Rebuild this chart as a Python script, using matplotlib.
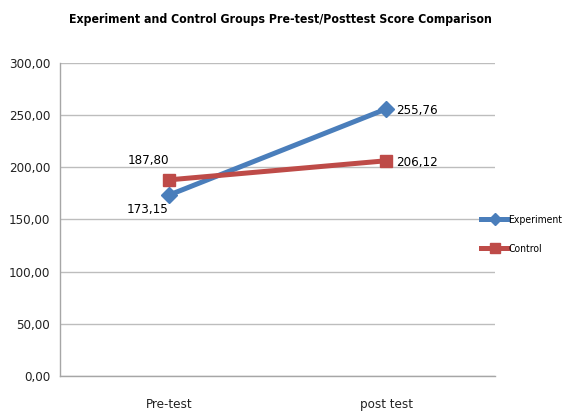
import matplotlib
matplotlib.use("Agg")
import matplotlib.pyplot as plt
from matplotlib.ticker import FuncFormatter, MultipleLocator

plt.rcParams['font.family'] = ['DejaVu Sans']
plt.rcParams['font.stretch'] = 'condensed'

categories = ["Pre-test", "post test"]
experiment = [173.15, 255.76]
control = [187.80, 206.12]

fig = plt.figure(figsize=(5.64, 4.11), dpi=100)
ax = fig.add_axes([0.1064, 0.0852, 0.7713, 0.7622])

x = [0, 1]
blue = "#4A7EBB"
red = "#BE4B48"
l1, = ax.plot(x, experiment, color=blue, lw=3.6, marker="D", ms=8,
              markeredgecolor=blue, label="Experiment", zorder=3)
l2, = ax.plot(x, control, color=red, lw=3.6, marker="s", ms=9,
              markeredgecolor=red, label="Control", zorder=4)

fmt = lambda v: f"{v:.2f}".replace(".", ",")
lab_size = 9.5

# value labels
ax.annotate(fmt(experiment[0]), (x[0], experiment[0]), xytext=(-15, -10),
            textcoords="offset points", ha="center", va="center", fontsize=lab_size)
ax.annotate(fmt(control[0]), (x[0], control[0]), xytext=(-15, 14),
            textcoords="offset points", ha="center", va="center", fontsize=lab_size)
ax.annotate(fmt(experiment[1]), (x[1], experiment[1]), xytext=(7, -1),
            textcoords="offset points", ha="left", va="center", fontsize=lab_size)
ax.annotate(fmt(control[1]), (x[1], control[1]), xytext=(7, -1),
            textcoords="offset points", ha="left", va="center", fontsize=lab_size)

ax.set_xlim(-0.5, 1.5)
ax.set_ylim(0, 300)
ax.yaxis.set_major_locator(MultipleLocator(50))
ax.yaxis.set_major_formatter(FuncFormatter(lambda v, p: fmt(v)))
ax.set_xticks(x)
ax.set_xticklabels(categories)
ax.tick_params(axis="both", length=0, labelsize=lab_size, colors="#222222")
ax.tick_params(axis="x", pad=16)
ax.tick_params(axis="y", pad=7)

ax.grid(axis="y", color="#BDBDBD", lw=1.0)
ax.set_axisbelow(True)
for s in ["top", "right"]:
    ax.spines[s].set_visible(False)
for s in ["left", "bottom"]:
    ax.spines[s].set_color("#A6A6A6")
    ax.spines[s].set_linewidth(1.0)

fig.text(0.497, 0.952, "Experiment and Control Groups Pre-test/Posttest Score Comparison",
         ha="center", va="center", fontsize=8.8, fontweight="bold")

fig.legend(handles=[l1, l2], loc="center left", bbox_to_anchor=(0.846, 0.43),
           frameon=False, fontsize=7.5, handlelength=2.6, handletextpad=0.0,
           labelspacing=1.8, borderaxespad=0, markerscale=0.75)

fig.savefig("out.png", dpi=100)
